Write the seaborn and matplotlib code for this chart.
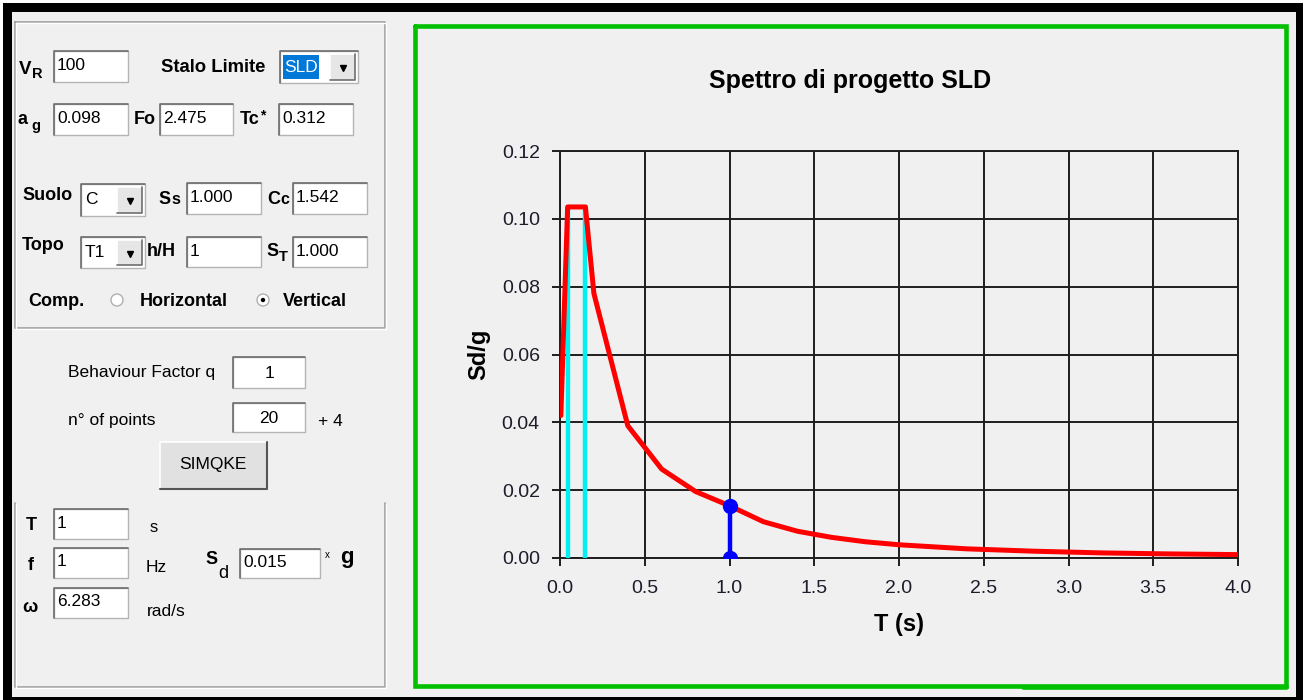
import numpy as np
import pandas as pd
import matplotlib
matplotlib.use("Agg")
import matplotlib.pyplot as plt
from matplotlib.patches import Rectangle, Circle
import seaborn as sns

# Spettro di progetto SLD (componente verticale)
periods = [0.005, 0.045, 0.15, 0.2, 0.4, 0.6, 0.8, 1.0, 1.2, 1.4, 1.6, 1.8,
           2.0, 2.4, 2.8, 3.2, 3.6, 4.0]
sd_g = [0.042, 0.1035, 0.1035, 0.078, 0.039, 0.0262, 0.0196, 0.0154, 0.0107,
        0.0079, 0.0061, 0.0048, 0.0039, 0.0027, 0.002, 0.0015, 0.0012, 0.001]

# periodi caratteristici (linee ciano)
corner_periods = [0.045, 0.145]
corner_values = [0.1035, 0.1035]

# punto selezionato (T = 1 s)
sel_period = [1.0]
sel_value = [0.0154]

x_ticks = [0.0, 0.5, 1.0, 1.5, 2.0, 2.5, 3.0, 3.5, 4.0]
y_ticks = [0.00, 0.02, 0.04, 0.06, 0.08, 0.10, 0.12]

BG = "#F0F0F0"
sns.set_theme(style="white", rc={"axes.facecolor": BG, "figure.facecolor": BG})
plt.rcParams['font.family'] = ['Liberation Sans', 'DejaVu Sans']

fig = plt.figure(figsize=(13.03, 7.0), dpi=100)

# livello "finestra" in coordinate pixel
gui = fig.add_axes([0, 0, 1, 1], zorder=0)
gui.set_xlim(0, 1303)
gui.set_ylim(700, 0)
gui.axis("off")

def rect(x0, y0, x1, y1, **kw):
    gui.add_patch(Rectangle((x0, y0), x1 - x0, y1 - y0, **kw))

def edit(x0, y0, x1, y1, txt, center=False):
    rect(x0, y0, x1, y1, facecolor="white", edgecolor="#B4B4B4", lw=1)
    gui.plot([x0, x0, x1], [y1, y0, y0], color="#6E6E6E", lw=1.2)
    if center:
        gui.text((x0 + x1) / 2, (y0 + y1) / 2 + 1, txt, ha="center", va="center", fontsize=12.5, color="black")
    else:
        gui.text(x0 + 3, (y0 + y1) / 2 - 1, txt, ha="left", va="center", fontsize=12.5, color="black")

def combo(x0, y0, x1, y1, txt, highlight=False):
    rect(x0, y0, x1, y1, facecolor="white", edgecolor="#B4B4B4", lw=1)
    gui.plot([x0, x0, x1], [y1, y0, y0], color="#6E6E6E", lw=1.2)
    if highlight:
        rect(x0 + 3, y0 + 4, x0 + 39, y1 - 4, facecolor="#0078D7", edgecolor="none")
        gui.text(x0 + 4, (y0 + y1) / 2, txt, ha="left", va="center", fontsize=12.5, color="white")
    else:
        gui.text(x0 + 4, (y0 + y1) / 2, txt, ha="left", va="center", fontsize=12.5, color="black")
    bx0, bx1 = x1 - 28, x1 - 3
    rect(bx0, y0 + 3, bx1, y1 - 3, facecolor="#E6E6E6", edgecolor="none")
    gui.plot([bx0, bx0, bx1], [y1 - 3, y0 + 3, y0 + 3], color="white", lw=1.2)
    gui.plot([bx0, bx1, bx1], [y1 - 3, y1 - 3, y0 + 3], color="#6E6E6E", lw=1.2)
    gui.plot([(bx0 + bx1) / 2], [(y0 + y1) / 2 + 1], marker="v", ms=4.5, color="black")

def label(x, y, txt, size=13, bold=True, **kw):
    gui.text(x, y, txt, ha="left", va="center", fontsize=size,
             fontweight="bold" if bold else "normal", color="black", **kw)

def etched(xs, ys):
    gui.plot(xs, ys, color="#A0A0A0", lw=1.2)
    gui.plot([v + 1 for v in xs], [v + 1 for v in ys], color="white", lw=1)

# cornice nera / bianca della finestra
rect(0, 0, 1303, 700, facecolor="white", edgecolor="none")
rect(11, 12, 1297, 697, facecolor=BG, edgecolor="none")
rect(3, 3, 1303, 12, facecolor="black", edgecolor="none")
rect(3, 3, 12, 700, facecolor="black", edgecolor="none")
rect(1296, 3, 1303, 700, facecolor="black", edgecolor="none")
rect(3, 697, 1303, 700, facecolor="black", edgecolor="none")

# riquadro parametri
etched([15, 385, 385, 15, 15], [22, 22, 328, 328, 22])

label(19, 69, "V", 13.5)
label(32, 74, "R", 10.5)
edit(54, 51, 128, 82, "100")
label(161, 68, "Stalo Limite", 13.3)
combo(280, 51, 358, 83, "SLD", highlight=True)

label(18, 119, "a", 13)
label(31, 126, "g", 10.5)
edit(54, 104, 128, 135, "0.098")
label(134, 120, "Fo")
edit(160, 104, 233, 135, "2.475")
label(240, 120, "Tc")
label(260, 115, "*", 10)
edit(279, 104, 353, 135, "0.312")

label(22, 195, "Suolo")
combo(81, 184, 145, 216, "C")
label(158, 199, "S", 13)
label(171, 200, "s", 11.5)
edit(187, 183, 261, 214, "1.000")
label(267, 199, "C", 13)
label(280, 200, "c", 11.5)
edit(293, 183, 367, 214, "1.542")

label(22, 246, "Topo")
combo(81, 237, 145, 268, "T1")
label(147, 252, "h/H")
edit(187, 237, 261, 267, "1")
label(266, 252, "S", 13)
label(279, 257, "T", 10.5)
edit(293, 237, 367, 267, "1.000")

label(28, 302, "Comp.")
gui.add_patch(Circle((117, 300), 6, facecolor="white", edgecolor="#B0B0B0", lw=1))
label(140, 301, "Horizontal")
gui.add_patch(Circle((263, 300), 6, facecolor="white", edgecolor="#B0B0B0", lw=1))
gui.add_patch(Circle((263, 300), 2.2, facecolor="black", edgecolor="none"))
label(283, 301, "Vertical")

# fattore di struttura
label(68, 373, "Behaviour Factor q", 12.5, bold=False)
edit(233, 357, 305, 388, "1", center=True)
label(68, 420, "n° of points", 12.5, bold=False)
edit(233, 403, 305, 432, "20", center=True)
label(318, 421, "+ 4", 12.5, bold=False)

rect(160, 442, 267, 489, facecolor="#E1E1E1", edgecolor="none")
gui.plot([160, 160, 267], [489, 442, 442], color="white", lw=1.2)
gui.plot([160, 267, 267], [489, 489, 442], color="#555555", lw=1.5)
gui.text(213, 465, "SIMQKE", ha="center", va="center", fontsize=12.5, color="black")

# riquadro risultati
etched([15, 15, 385, 385], [503, 687, 687, 503])
label(26, 525, "T", 13)
edit(54, 509, 128, 539, "1")
label(150, 528, "s", 12, bold=False)
label(28, 566, "f", 13)
edit(54, 548, 128, 578, "1")
label(146, 568, "Hz", 12.5, bold=False)
label(205, 559, "S", 13)
label(218, 573, "d", 13, bold=False)
edit(240, 549, 320, 578, "0.015")
label(325, 555, "x", 7, bold=False)
label(340, 558, "g", 16)
label(22, 608, "ω", 13)
edit(54, 588, 128, 618, "6.283")
label(147, 611, "rad/s", 12.5, bold=False)

# cornice verde del grafico
gui.plot([414.5, 1285.5, 1285.5, 414.5, 414.5], [26, 26, 685.5, 685.5, 26],
         color="#00C000", lw=3.3, solid_joinstyle="miter")
gui.plot([1023, 1285.5], [687, 687], color="#00C000", lw=3.3)

# titolo centrato nel riquadro verde
gui.text(850, 81, "Spettro di progetto SLD", ha="center", va="center",
         fontsize=18, fontweight="bold", color="black")

# grafico
ax = fig.add_axes([560 / 1303, (700 - 558) / 700, (1238 - 560) / 1303, (558 - 151) / 700], zorder=2)
ax.set_facecolor(BG)

spectrum = pd.DataFrame({"T": periods, "Sd": sd_g})
ax.vlines(corner_periods, 0, corner_values, color="#00F0F0", lw=3.2, zorder=3)
sns.lineplot(data=spectrum, x="T", y="Sd", color="#FF0000", lw=3.6, ax=ax, zorder=4)
ax.vlines(sel_period, 0, sel_value, color="#0000FF", lw=3.2, zorder=5)
ax.plot(sel_period, sel_value, "o", color="#0000FF", ms=10, zorder=6)
ax.plot(sel_period, [0.0], "o", color="#0000FF", ms=10, zorder=6, clip_on=True)

ax.set_xlim(0, 4.0)
ax.set_ylim(0, 0.12)
ax.set_xticks(x_ticks)
ax.set_yticks(y_ticks)
ax.set_xticklabels([f"{v:.1f}" for v in x_ticks])
ax.set_yticklabels([f"{v:.2f}" for v in y_ticks])
ax.grid(True, color="#1E1E1E", lw=1.4)
for s in ax.spines.values():
    s.set_visible(True)
    s.set_color("#1E1E1E")
    s.set_linewidth(1.4)
ax.tick_params(axis="both", direction="out", length=5.5, width=1.4, color="#1E1E1E",
               labelsize=14, labelcolor="#1C1C2A", bottom=True, left=True)
ax.tick_params(axis="x", pad=10)
ax.tick_params(axis="y", pad=9)
ax.set_xlabel("T (s)", fontsize=17, fontweight="bold", labelpad=12, color="black")
ax.set_ylabel("Sd/g", fontsize=17, fontweight="bold", labelpad=8, color="black")

fig.savefig("out.png", dpi=100, facecolor=fig.get_facecolor())
